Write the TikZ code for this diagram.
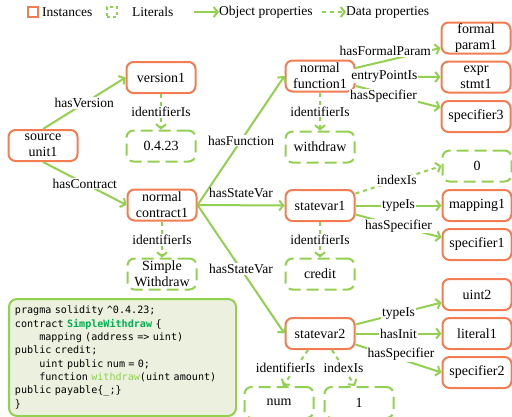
\documentclass[tikz,border=0pt]{standalone}
\usepackage{fontspec}
\setmainfont{Liberation Serif}
\setmonofont{DejaVu Sans Mono}
\usetikzlibrary{arrows.meta}
\definecolor{instorange}{RGB}{244,124,82}
\definecolor{litgreen}{RGB}{146,208,80}
\definecolor{codefill}{RGB}{235,241,222}
\definecolor{codegreen}{RGB}{0,176,80}
\newcommand{\codeind}{\phantom{xxxx}}
\newcommand{\codefont}{\ttfamily\fontsize{10.1}{13.3}\selectfont
	\fontdimen2\font=0.602em\fontdimen3\font=0pt\fontdimen4\font=0pt\relax}

\begin{document}
\begin{tikzpicture}[x=1pt, y=-1pt, >={Straight Barb[length=4pt,width=10pt]},
	every node/.style={font=\fontsize{14}{16}\selectfont},
	inst/.style={draw=instorange, line width=2pt, rounded corners=7pt, minimum width=69pt, minimum height=31pt, align=center, inner sep=1pt},
	lit/.style={draw=litgreen, line width=2pt, dash pattern=on 12pt off 6pt, rounded corners=7pt, minimum width=69pt, minimum height=31pt, align=center, inner sep=1pt},
	objprop/.style={->, draw=litgreen, line width=2pt},
	dataprop/.style={->, draw=litgreen, line width=2pt, dash pattern=on 4pt off 4pt},
	lbl/.style={fill=white, inner sep=1pt, font=\fontsize{13.5}{15}\selectfont},
	legtxt/.style={anchor=west, inner sep=0pt, font=\fontsize{13.5}{15}\selectfont}]
		\useasboundingbox (0,0) rectangle (512,416);

		% legend
		\node[draw=instorange, line width=2pt, minimum size=10pt, inner sep=0pt] (leginst) at (33,12) {};
		\node[legtxt] (leginsttxt) at (42,12) {Instances};
		\node[draw=litgreen, line width=2pt, dash pattern=on 3pt off 3pt, minimum size=10pt, inner sep=0pt] (leglit) at (112,12) {};
		\node[legtxt] (leglittxt) at (132,12) {Literals};
		\coordinate (legobj) at (194,12);
		\node[legtxt] (legobjtxt) at (219,12) {Object properties};
		\draw[objprop] (legobj) -- (legobjtxt.west);
		\coordinate (legdata) at (322,12);
		\node[legtxt] (legdatatxt) at (346,12) {Data properties};
		\draw[dataprop] (legdata) -- (legdatatxt.west);

		% instances and literals
		\node[inst] (source) at (43,145.5) {source\\unit1};
		\node[inst] (version) at (161,77.5) {version1};
		\node[lit] (vername) at (161,146) {0.4.23};
		\node[inst] (contract) at (162,205) {normal\\contract1};
		\node[lit] (cname) at (162,274) {Simple\\Withdraw};
		\node[inst] (function) at (320,76) {normal\\function1};
		\node[lit] (fname) at (320,147) {withdraw};
		\node[inst] (formal) at (476,38) {formal\\param1};
		\node[inst] (expr) at (476,77) {expr\\stmt1};
		\node[inst] (specthree) at (476,116.5) {specifier3};
		\node[inst] (svone) at (320,205.5) {statevar1};
		\node[lit] (svonename) at (320,274) {credit};
		\node[lit] (zero) at (477,166) {0};
		\node[inst] (mapping) at (477,205.5) {mapping1};
		\node[inst] (specone) at (477,244.5) {specifier1};
		\node[inst] (uint) at (477,294.5) {uint2};
		\node[inst] (literal) at (477,333.5) {literal1};
		\node[inst] (spectwo) at (477,372.5) {specifier2};
		\node[inst] (svtwo) at (320,333.5) {statevar2};
		\node[lit] (num) at (279,402.5) {num};
		\node[lit] (one) at (359,402.5) {1};

		% properties
		\draw[objprop] (source.north) -- node[lbl] {hasVersion} (version.west);
		\draw[objprop] (source.south) -- node[lbl] {hasContract} (contract.west);
		\draw[dataprop] (version) -- node[lbl] {identifierIs} (vername);
		\draw[dataprop] (contract) -- node[lbl] {identifierIs} (cname);
		\draw[objprop] (contract.east) -- node[lbl] {hasFunction} (function.west);
		\draw[objprop] (contract.east) -- node[lbl, above=6pt, fill=none] {hasStateVar} (svone.west);
		\draw[objprop] (contract.east) -- node[lbl] {hasStateVar} (svtwo.west);

		\draw[dataprop] (function) -- node[lbl] {identifierIs} (fname);
		\draw[objprop] ([yshift=8pt]function.east) -- node[lbl, pos=0.35, yshift=10pt] {hasFormalParam} ([yshift=-10pt]formal.west);
		\draw[objprop] (function.east) -- node[lbl, pos=0.34] {entryPointIs} (expr.west);
		\draw[objprop] ([yshift=-10pt]function.east) -- node[lbl, pos=0.33, yshift=-3pt] {hasSpecifier} ([yshift=9pt]specthree.west);

		\draw[dataprop] (svone) -- node[lbl] {identifierIs} (svonename);
		\draw[dataprop] ([yshift=12pt]svone.east) -- node[lbl, pos=0.48] {indexIs} (zero.west);
		\draw[objprop] (svone.east) -- node[lbl] {typeIs} (mapping.west);
		\draw[objprop] ([yshift=-9pt]svone.east) -- node[lbl] {hasSpecifier} ([yshift=7pt]specone.west);

		\draw[objprop] ([yshift=9pt]svtwo.east) -- node[lbl] {typeIs} ([yshift=-8pt]uint.west);
		\draw[objprop] (svtwo.east) -- node[lbl] {hasInit} (literal.west);
		\draw[objprop] ([yshift=-11pt]svtwo.east) -- node[lbl, pos=0.53, yshift=5pt] {hasSpecifier} (spectwo.west);
		\draw[dataprop] ([xshift=-12pt]svtwo.south) -- node[lbl, xshift=-10pt] {identifierIs} ([xshift=4pt]num.north);
		\draw[dataprop] ([xshift=12pt]svtwo.south) -- node[lbl] {indexIs} ([xshift=-4pt]one.north);

		% source code
		\node[draw=litgreen, fill=codefill, line width=2pt, rounded corners=8pt, minimum height=117pt, text width=215pt, inner xsep=6pt, align=left, anchor=north west, font=\codefont] (code) at (8,298) {pragma solidity \textasciicircum0.4.23;\\
contract {\bfseries\color{codegreen}SimpleWithdraw} \{\\
\codeind mapping (address => uint)\\
public credit;\\
\codeind uint public num = 0;\\
\codeind function {\color{litgreen}withdraw}(uint amount)\\
public payable\{\_;\}\\
\}};
	\end{tikzpicture}
\end{document}
